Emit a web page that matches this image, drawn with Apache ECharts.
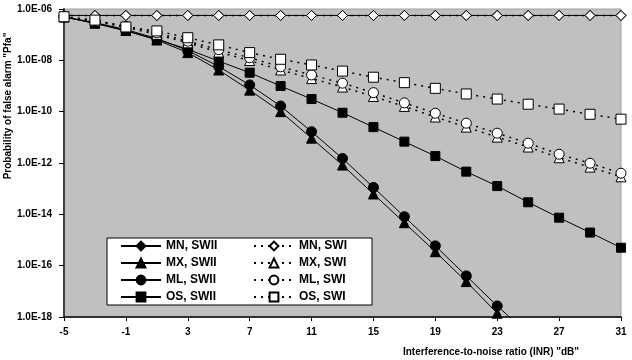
<!DOCTYPE html>
<html>
<head>
<meta charset="utf-8">
<script src="https://cdn.jsdelivr.net/npm/echarts@6/dist/echarts.min.js"></script>
<style>
    html, body { margin: 0; padding: 0; background: #fff; }
    #chart { width: 632px; height: 360px; }
</style>
</head>
<body>
<div id="chart"></div>
<script>
    // INR in dB, one point every 2 dB
    const inr = ['-5', '-3', '-1', '1', '3', '5', '7', '9', '11', '13', '15', '17', '19', '21', '23', '25', '27', '29', '31'];

    // SWII (solid lines, filled markers)
    const mnSwii = [5.6e-7, 5.6e-7, 5.6e-7, 5.6e-7, 5.6e-7, 5.6e-7, 5.6e-7, 5.6e-7, 5.6e-7, 5.6e-7, 5.6e-7, 5.6e-7, 5.6e-7, 5.6e-7, 5.6e-7, 5.6e-7, 5.6e-7, 5.6e-7, 5.6e-7];
    const mxSwii = [4.9e-7, 2.8e-7, 1.45e-7, 6.2e-8, 2.0e-8, 4.2e-9, 6.9e-10, 1.0e-10, 9.3e-12, 8.3e-13, 6.2e-14, 4.7e-15, 3.5e-16, 2.4e-17, 1.4e-18, 1.07e-19, null, null, null];
    const mlSwii = [4.9e-7, 2.95e-7, 1.58e-7, 7.1e-8, 2.4e-8, 5.75e-9, 1.1e-9, 1.66e-10, 1.66e-11, 1.51e-12, 1.12e-13, 8.1e-15, 5.9e-16, 4.0e-17, 2.7e-18, 2.2e-19, null, null, null];
    const osSwii = [4.9e-7, 2.75e-7, 1.4e-7, 6.6e-8, 2.7e-8, 9.3e-9, 3.3e-9, 1.0e-9, 3.1e-10, 9.1e-11, 2.5e-11, 6.8e-12, 1.86e-12, 4.6e-13, 1.26e-13, 2.95e-14, 7.4e-15, 1.95e-15, 5.0e-16];

    // SWI (dotted lines, open markers)
    const mnSwi = [5.6e-7, 5.6e-7, 5.6e-7, 5.6e-7, 5.6e-7, 5.6e-7, 5.6e-7, 5.6e-7, 5.6e-7, 5.6e-7, 5.6e-7, 5.6e-7, 5.6e-7, 5.6e-7, 5.6e-7, 5.6e-7, 5.6e-7, 5.6e-7, 5.6e-7];
    const mxSwi = [5.0e-7, 3.4e-7, 1.9e-7, 1.02e-7, 4.8e-8, 2.1e-8, 9.8e-9, 4.2e-9, 1.95e-9, 9.1e-10, 3.9e-10, 1.6e-10, 6.2e-11, 2.5e-11, 1.02e-11, 4.2e-12, 1.6e-12, 6.9e-13, 2.9e-13];
    const mlSwi = [5.0e-7, 3.55e-7, 2.1e-7, 1.17e-7, 5.6e-8, 2.6e-8, 1.26e-8, 5.6e-9, 2.7e-9, 1.29e-9, 5.5e-10, 2.2e-10, 8.7e-11, 3.55e-11, 1.45e-11, 5.9e-12, 2.2e-12, 9.8e-13, 4.0e-13];
    const osSwi = [5.0e-7, 3.7e-7, 2.0e-7, 1.4e-7, 7.6e-8, 4.0e-8, 2.0e-8, 1.1e-8, 6.6e-9, 3.8e-9, 2.2e-9, 1.35e-9, 8.1e-10, 4.9e-10, 3.1e-10, 1.95e-10, 1.26e-10, 7.9e-11, 5.1e-11];

    const font = 'Liberation Sans, Arial, sans-serif';

    function solid(name, data, symbol, size) {
        return {
            name: name, type: 'line', data: data,
            symbol: symbol, symbolSize: size,
            lineStyle: { color: '#000', width: 1 },
            itemStyle: { color: '#000', borderColor: '#000', borderWidth: 1 }
        };
    }
    function dotted(name, data, symbol, size) {
        return {
            name: name, type: 'line', data: data,
            symbol: symbol, symbolSize: size,
            lineStyle: { color: '#000', width: 1.5, type: [2, 5] },
            itemStyle: { color: '#fff', borderColor: '#000', borderWidth: 1 }
        };
    }

    const myChart = echarts.init(document.getElementById('chart'));
    const legendText = { fontFamily: font, fontWeight: 'bold', fontSize: 12, color: '#000' };
    const option = {
        animation: false,
        grid: {
            left: 64, right: 11, top: 9, bottom: 43,
            show: true, backgroundColor: '#c0c0c0', borderColor: '#a0a0a0', borderWidth: 1
        },
        legend: [
            {
                data: ['MN, SWII', 'MX, SWII', 'ML, SWII', 'OS, SWII'],
                orient: 'vertical', left: 120, top: 240, padding: 0,
                itemWidth: 40, itemHeight: 11, itemGap: 5,
                textStyle: legendText, z: 20
            },
            {
                data: ['MN, SWI', 'MX, SWI', 'ML, SWI', 'OS, SWI'],
                orient: 'vertical', left: 253, top: 240, padding: 0,
                itemWidth: 40, itemHeight: 11, itemGap: 5,
                textStyle: legendText, z: 20
            }
        ],
        graphic: [
            {
                type: 'rect', z: 10,
                shape: { x: 107, y: 238, width: 265, height: 67 },
                style: { fill: '#fff', stroke: '#000', lineWidth: 1 }
            },
            {
                type: 'text', z: 10,
                x: 8, y: 106, rotation: Math.PI / 2,
                style: {
                    text: 'Probability of false alarm "Pfa"',
                    font: 'bold 10px ' + font, fill: '#000',
                    align: 'center', verticalAlign: 'middle'
                }
            },
            {
                type: 'text', z: 10,
                x: 491, y: 352,
                style: {
                    text: 'Interference-to-noise ratio (INR) "dB"',
                    font: 'bold 10px ' + font, fill: '#000',
                    align: 'center', verticalAlign: 'middle'
                }
            }
        ],
        xAxis: {
            type: 'category',
            boundaryGap: false,
            data: inr,
            axisLine: { lineStyle: { color: '#000', width: 1.5 } },
            axisTick: { interval: 1, length: 4, lineStyle: { color: '#000' } },
            axisLabel: {
                interval: 1, margin: 10,
                fontFamily: font, fontWeight: 'bold', fontSize: 10, color: '#000'
            },
            splitLine: { show: false }
        },
        yAxis: {
            type: 'log',
            logBase: 10,
            min: 1e-18,
            max: 1e-6,
            interval: 2,
            axisLine: { show: true, lineStyle: { color: '#404040', width: 2 } },
            axisTick: { show: true, length: 5, lineStyle: { color: '#000' } },
            axisLabel: {
                margin: 12,
                fontFamily: font, fontWeight: 'bold', fontSize: 10, color: '#000',
                formatter: function (v) {
                    const e = Math.round(Math.log10(v));
                    const a = Math.abs(e);
                    return '1.0E' + (e < 0 ? '-' : '+') + (a < 10 ? '0' : '') + a;
                }
            },
            splitLine: { show: false }
        },
        series: [
            solid('MN, SWII', mnSwii, 'diamond', 10),
            solid('MX, SWII', mxSwii, 'triangle', 10),
            solid('ML, SWII', mlSwii, 'circle', 10),
            solid('OS, SWII', osSwii, 'rect', 9),
            dotted('MN, SWI', mnSwi, 'diamond', 10),
            dotted('MX, SWI', mxSwi, 'triangle', 10),
            dotted('ML, SWI', mlSwi, 'circle', 10),
            dotted('OS, SWI', osSwi, 'rect', 10)
        ]
    };
    myChart.setOption(option);
</script>
</body>
</html>
